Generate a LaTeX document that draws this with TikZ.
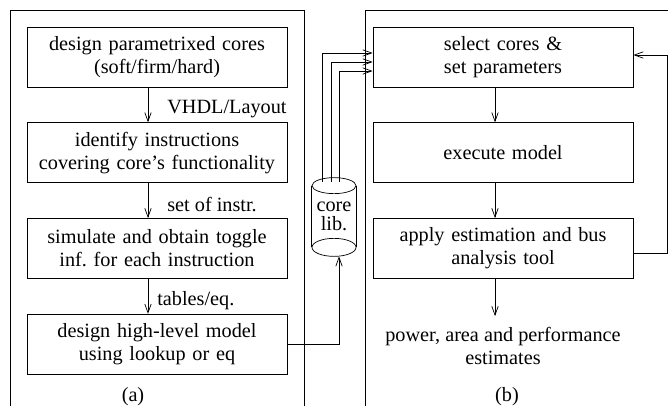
\documentclass[tikz,border=0pt]{standalone}
\usepackage{fontspec}
\setmainfont{Liberation Serif}
\usetikzlibrary{shapes, arrows.meta, positioning}
\frenchspacing

\begin{document}
\begin{tikzpicture}[x=0.025cm, y=-0.025cm, node distance=0.875cm, font=\fontsize{14.4}{16.5}\selectfont, line width=0.5pt]
% Define styles
\tikzstyle{box} = [rectangle, draw, text width=6.5cm, inner sep=0pt, text centered, minimum height=1.5cm]
\tikzstyle{arrow} = [->, >={Straight Barb[length=2.2mm, width=1.6mm]}]
\tikzstyle{lbl} = [right, inner sep=0pt]
\tikzstyle{store} = [inner sep=0pt, align=center, minimum width=1.1cm, minimum height=1.525cm, font=\fontsize{14.4}{13}\selectfont]

\useasboundingbox (0,0) rectangle (668,406);

% Panels
\draw (10,406) -- (10,10) -- (304,10) -- (304,406);
\draw (365,406) -- (365,10) -- (668,10);

% (a) core modelling
\node (design) [box] at (157,57) {design parametrixed cores\\(soft/firm/hard)};
\node (identify) [box, below=of design] {identify instructions\\covering core's functionality};
\node (simulate) [box, below=of identify] {simulate and obtain toggle\\inf. for each instruction};
\node (model) [box, below=of simulate] {design high-level model\\using lookup or eq};
\node (capa) at (133,397) {(a)};
\draw [arrow] ([xshift=-0.225cm]design.south) -- node[lbl, xshift=0.475cm, yshift=-0.1cm] {VHDL/Layout} ([xshift=-0.225cm]identify.north);
\draw [arrow] ([xshift=-0.225cm]identify.south) -- node[lbl, xshift=0.475cm, yshift=-0.1cm] {set of instr.} ([xshift=-0.225cm]simulate.north);
\draw [arrow] ([xshift=-0.225cm]simulate.south) -- node[lbl, xshift=0.225cm, yshift=-0.1cm] {tables/eq.} ([xshift=-0.225cm]model.north);

% core library
\node (corelib) [store] at (334,216.5) {core\\lib.};
\draw (corelib.north west) -- (corelib.south west);
\draw (corelib.north east) -- (corelib.south east);
\draw (corelib.north) ellipse [x radius=0.55cm, y radius=0.2cm];
\draw (corelib.south) ellipse [x radius=0.55cm, y radius=0.225cm];

% (b) system estimation
\node (select) [box] at (503,57) {select cores \&\\set parameters};
\node (execute) [box, below=of select] {execute model};
\node (estimate) [box, below=of execute] {apply estimation and bus\\analysis tool};
\node (result) [align=center] at (503,346) {power, area and performance\\estimates};
\node (capb) at (507,397) {(b)};
\draw [arrow] ([xshift=-0.2cm]select.south) -- ([xshift=-0.2cm]execute.north);
\draw [arrow] ([xshift=-0.2cm]execute.south) -- ([xshift=-0.2cm]estimate.north);
\draw [arrow, shorten >=0.15cm] ([xshift=-0.2cm]estimate.south) -- ([xshift=-0.2cm]result.north);

% library links
\draw [arrow] (model.east) -| ([xshift=0.125cm, yshift=-0.225cm]corelib.south);
\draw [arrow] ([xshift=-0.3cm, yshift=0.1cm]corelib.north) |- ([yshift=0.1cm]select.west);
\draw [arrow] ([xshift=-0.075cm, yshift=0.1cm]corelib.north) |- ([yshift=-0.125cm]select.west);
\draw [arrow] ([xshift=0.125cm, yshift=0.1cm]corelib.north) |- ([yshift=-0.35cm]select.west);

% feedback
\coordinate (loop) at (667,150);
\draw [arrow] ([yshift=-0.11cm]estimate.east) -| (loop) |- ([yshift=0.05cm]select.east);
\end{tikzpicture}
\end{document}
